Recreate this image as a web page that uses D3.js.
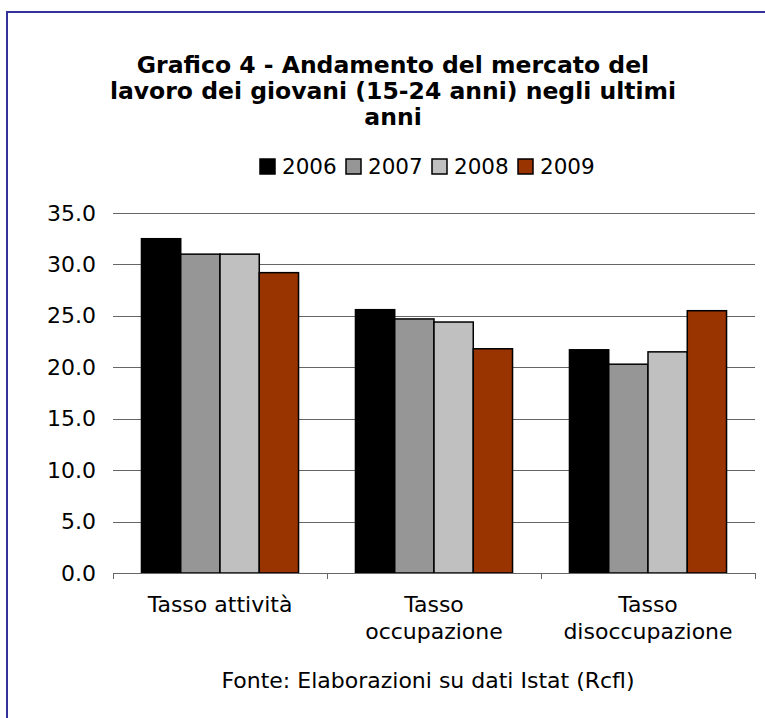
<!DOCTYPE html>
<html>
<head>
<meta charset="utf-8">
<script src="https://cdn.jsdelivr.net/npm/d3@7"></script>
<style>
  body { margin: 0; background: #fff; }
  text { font-family: "DejaVu Sans", Verdana, sans-serif; fill: #000; }
</style>
</head>
<body>
<div id="chart"></div>
<script>
// Chart data
var categories = [["Tasso attività"], ["Tasso", "occupazione"], ["Tasso", "disoccupazione"]];
var years = ["2006", "2007", "2008", "2009"];
var values2006 = [32.5, 25.6, 21.7];
var values2007 = [31.0, 24.7, 20.3];
var values2008 = [31.0, 24.4, 21.5];
var values2009 = [29.2, 21.8, 25.5];
var yTicks = [0, 5, 10, 15, 20, 25, 30, 35];
var titleLines = ["Grafico 4 - Andamento del mercato del", "lavoro dei giovani (15-24 anni) negli ultimi", "anni"];
var sourceText = "Fonte: Elaborazioni su dati Istat (Rcfl)";

var colors = ["#000000", "#969696", "#c0c0c0", "#993300"];
var series = [values2006, values2007, values2008, values2009];

var svgWidth = 765;
var svgHeight = 718;

// Plot area
var plot = { left: 113, right: 755, top: 213, bottom: 573 };

var svg = d3.select("#chart")
  .append("svg")
  .attr("width", svgWidth)
  .attr("height", svgHeight);

// Chart border (cropped on right and bottom)
svg.append("rect")
  .attr("x", 7)
  .attr("y", 12)
  .attr("width", 800)
  .attr("height", 760)
  .attr("fill", "none")
  .attr("stroke", "#333399")
  .attr("stroke-width", 2);

// Title
svg.append("g")
  .selectAll("text")
  .data(titleLines)
  .enter()
  .append("text")
  .attr("x", 393)
  .attr("y", (d, i) => 73 + i * 26)
  .attr("text-anchor", "middle")
  .attr("font-size", "23.5px")
  .attr("font-weight", "bold")
  .text(d => d);

// Scales
var x0 = d3.scaleBand()
  .domain(d3.range(categories.length))
  .range([plot.left, plot.right])
  .paddingInner(0.266)
  .paddingOuter(0.133);

var x1 = d3.scaleBand()
  .domain(years)
  .range([0, x0.bandwidth()]);

var y = d3.scaleLinear()
  .domain([0, 35])
  .range([plot.bottom, plot.top]);

// Gridlines
svg.append("g")
  .selectAll("line")
  .data(yTicks.slice(1))
  .enter()
  .append("line")
  .attr("x1", plot.left)
  .attr("x2", plot.right)
  .attr("y1", d => Math.round(y(d)) + 0.5)
  .attr("y2", d => Math.round(y(d)) + 0.5)
  .attr("stroke", "#666666")
  .attr("stroke-width", 1);

// Y axis labels
var leftAxis = d3.axisLeft(y)
  .tickValues(yTicks)
  .tickFormat(d3.format(".1f"))
  .tickSize(0)
  .tickPadding(17);

var yAxisG = svg.append("g")
  .attr("transform", `translate(${plot.left}, 0)`)
  .call(leftAxis);
yAxisG.select(".domain").remove();
yAxisG.selectAll("text")
  .attr("font-size", "22px")
  .attr("font-family", "DejaVu Sans, sans-serif")
  .attr("fill", "#000");

// Bars
series.forEach(function(vals, si) {
  svg.append("g")
    .selectAll("rect")
    .data(vals)
    .enter()
    .append("rect")
    .attr("x", (d, i) => x0(i) + x1(years[si]))
    .attr("y", d => y(d))
    .attr("width", x1.bandwidth())
    .attr("height", d => y(0) - y(d))
    .attr("fill", colors[si])
    .attr("stroke", "#000")
    .attr("stroke-width", 1.5);
});

// X axis line with category ticks
var step = x0.step();
svg.append("line")
  .attr("x1", plot.left)
  .attr("x2", plot.right)
  .attr("y1", plot.bottom + 0.5)
  .attr("y2", plot.bottom + 0.5)
  .attr("stroke", "#666666")
  .attr("stroke-width", 1);

svg.append("g")
  .selectAll("line")
  .data(d3.range(categories.length + 1))
  .enter()
  .append("line")
  .attr("x1", d => Math.round(plot.left + d * step) + 0.5)
  .attr("x2", d => Math.round(plot.left + d * step) + 0.5)
  .attr("y1", plot.bottom)
  .attr("y2", plot.bottom + 6)
  .attr("stroke", "#666666");

// Category labels
var catLabels = svg.append("g")
  .selectAll("text")
  .data(categories)
  .enter()
  .append("text")
  .attr("x", (d, i) => x0(i) + x0.bandwidth() / 2)
  .attr("y", 612)
  .attr("text-anchor", "middle")
  .attr("font-size", "22px");

catLabels.selectAll("tspan")
  .data(d => d)
  .enter()
  .append("tspan")
  .attr("x", function() { return d3.select(this.parentNode).attr("x"); })
  .attr("dy", (d, i) => i === 0 ? 0 : 27)
  .text(d => d);

// Legend
var legend = svg.append("g")
  .selectAll("g")
  .data(years)
  .enter()
  .append("g")
  .attr("transform", (d, i) => `translate(${260 + i * 86}, 159)`);

legend.append("rect")
  .attr("width", 15)
  .attr("height", 15)
  .attr("fill", (d, i) => colors[i])
  .attr("stroke", "#000")
  .attr("stroke-width", 1.5);

legend.append("text")
  .attr("x", 22)
  .attr("y", 15)
  .attr("font-size", "21.5px")
  .text(d => d);

// Source note
svg.append("text")
  .attr("x", 428)
  .attr("y", 688)
  .attr("text-anchor", "middle")
  .attr("font-size", "22px")
  .text(sourceText);
</script>
</body>
</html>
